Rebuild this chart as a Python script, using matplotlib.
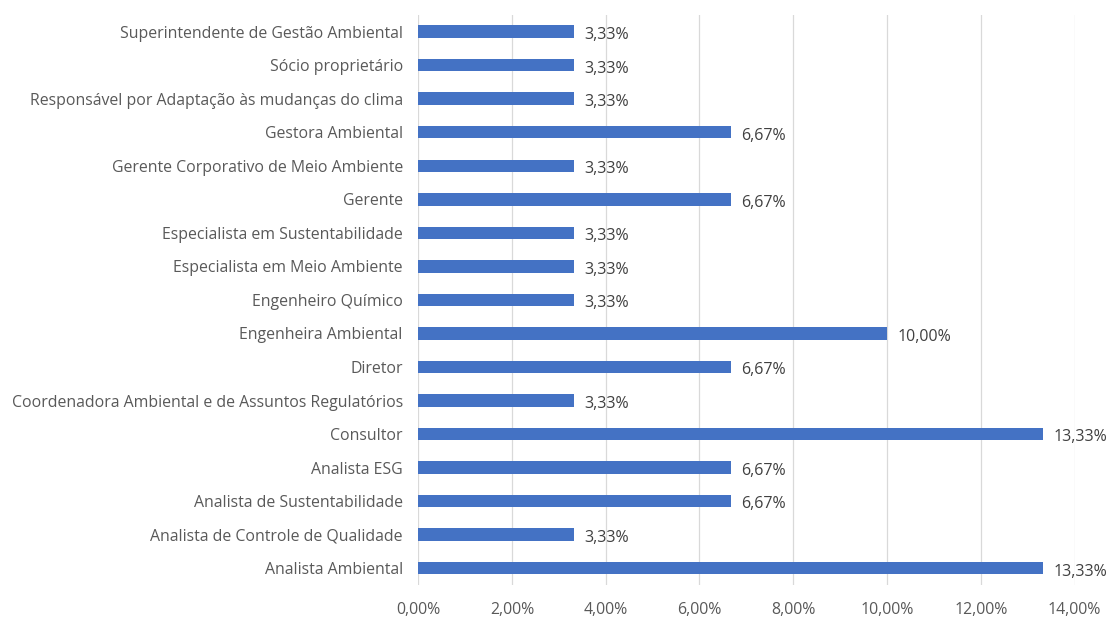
import numpy as np
import matplotlib.pyplot as plt
from matplotlib.ticker import FuncFormatter

# categories listed bottom to top, as drawn
categories = [
    "Analista Ambiental",
    "Analista de Controle de Qualidade",
    "Analista de Sustentabilidade",
    "Analista ESG",
    "Consultor",
    "Coordenadora Ambiental e de Assuntos Regulatórios",
    "Diretor",
    "Engenheira Ambiental",
    "Engenheiro Químico",
    "Especialista em Meio Ambiente",
    "Especialista em Sustentabilidade",
    "Gerente",
    "Gerente Corporativo de Meio Ambiente",
    "Gestora Ambiental",
    "Responsável por Adaptação às mudanças do clima",
    "Sócio proprietário",
    "Superintendente de Gestão Ambiental",
]
shares = [13.33, 3.33, 6.67, 6.67, 13.33, 3.33, 6.67, 10.00, 3.33,
          3.33, 3.33, 6.67, 3.33, 6.67, 3.33, 3.33, 3.33]
x_ticks = [0, 2, 4, 6, 8, 10, 12, 14]

text_color = "#595959"
plt.rcParams['font.family'] = ['Open Sans', 'DejaVu Sans']

fig = plt.figure(figsize=(11.09, 6.19), dpi=100)
ax = fig.add_axes([0.377, 0.055, 0.592, 0.921])

y = np.arange(len(categories))
ax.barh(y, shares, height=0.37, color="#4472C4", zorder=3)

def pct(v):
    return f"{v:.2f}".replace(".", ",") + "%"

for yi, v in zip(y, shares):
    ax.text(v + 0.22, yi - 0.1, pct(v), va="center", ha="left",
            fontsize=11.5, color="#404040")

ax.set_xlim(0, 14)
ax.set_ylim(-0.5, len(categories) - 0.5)
ax.set_xticks(x_ticks)
ax.xaxis.set_major_formatter(FuncFormatter(lambda v, p: pct(v)))
ax.set_yticks(y)
ax.set_yticklabels(categories)
ax.tick_params(axis="both", length=0, labelsize=11.4, labelcolor=text_color)
ax.tick_params(axis="x", pad=12)
ax.tick_params(axis="y", pad=11)
ax.grid(axis="x", color="#d9d9d9", linewidth=0.9, zorder=0)
for s in ax.spines.values():
    s.set_visible(False)

plt.savefig("out.png", dpi=100)
